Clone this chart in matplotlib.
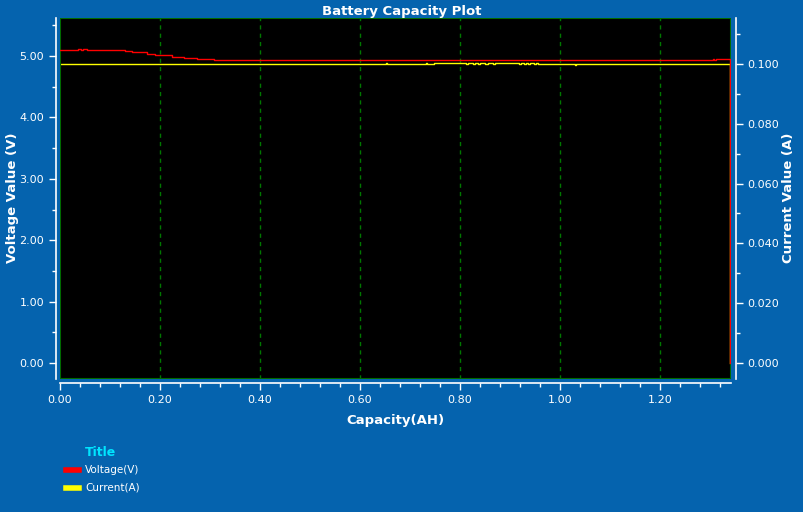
import numpy as np
import matplotlib.pyplot as plt
from matplotlib.patches import Rectangle
from matplotlib.ticker import MultipleLocator

bg = '#0563ae'

# voltage steps (capacity AH, volts)
volt_cap = [0.000, 0.036, 0.042, 0.046, 0.054, 0.130, 0.145, 0.160, 0.175, 0.190,
            0.207, 0.225, 0.248, 0.273, 0.309, 1.307, 1.309, 1.313, 1.341, 1.341]
volt_val = [5.10, 5.11, 5.10, 5.11, 5.10, 5.09, 5.07, 5.06, 5.04, 5.02,
            5.01, 4.99, 4.97, 4.96, 4.94, 4.95, 4.94, 4.96, 4.96, 0.00]

# current steps (capacity AH, amps)
curr_cap = [0.000, 0.652, 0.654, 0.732, 0.734, 0.748, 0.812, 0.816, 0.826, 0.830,
            0.836, 0.840, 0.850, 0.856, 0.866, 0.870, 0.918, 0.922, 0.928, 0.932,
            0.936, 0.940, 0.948, 0.952, 0.956, 1.030, 1.032, 1.341, 1.341]
curr_val = [0.0999, 0.1002, 0.0999, 0.1002, 0.0999, 0.1002, 0.0999, 0.1002, 0.0999, 0.1002,
            0.0999, 0.1002, 0.0999, 0.1002, 0.0999, 0.1002, 0.0999, 0.1002, 0.0999, 0.1002,
            0.0999, 0.1002, 0.0999, 0.1002, 0.0999, 0.0997, 0.0999, 0.0999, 0.0]

fig = plt.figure(figsize=(8.04, 5.12), dpi=100, facecolor=bg)
ax = fig.add_axes([60/804, 133/512, 671/804, 361/512])
ax2 = ax.twinx()

ax.set_xlim(0, 1.342)
ax.set_ylim(-0.26, 5.62)
ax2.set_ylim(-0.0053, 0.1153)

for a in (ax, ax2):
    for s in a.spines.values():
        s.set_visible(False)
ax.spines['left'].set_visible(True)
ax.spines['left'].set_position(('outward', 3))
ax.spines['bottom'].set_visible(True)
ax.spines['bottom'].set_position(('outward', 3))
ax2.spines['right'].set_visible(True)
ax2.spines['right'].set_position(('outward', 3.5))
for s in (ax.spines['left'], ax.spines['bottom'], ax2.spines['right']):
    s.set_color('white')
    s.set_linewidth(1.2)

ax.xaxis.set_major_locator(MultipleLocator(0.2))
ax.xaxis.set_minor_locator(MultipleLocator(0.04))
ax.yaxis.set_major_locator(MultipleLocator(1.0))
ax.yaxis.set_minor_locator(MultipleLocator(0.5))
ax2.yaxis.set_major_locator(MultipleLocator(0.02))
ax2.yaxis.set_minor_locator(MultipleLocator(0.01))
ax.xaxis.set_major_formatter('{x:.2f}')
ax.yaxis.set_major_formatter('{x:.2f}')
ax2.yaxis.set_major_formatter('{x:.3f}')

for a in (ax, ax2):
    a.tick_params(which='major', colors='white', length=5, width=1, labelsize=8)
    a.tick_params(which='minor', colors='white', length=3, width=1)

# black plot area drawn on the back axes, green frame and grid on top
ax.patch.set_visible(False)
ax2.patch.set_visible(True)
ax2.patch.set_facecolor('black')
ax2.set_zorder(ax.get_zorder() - 1)
for xv in np.arange(0.2, 1.3, 0.2):
    ax2.axvline(xv, color='#007800', linestyle=(0, (3, 3)), linewidth=1)
ax.add_patch(Rectangle((0, 0), 1, 1, transform=ax.transAxes, fill=False,
                       edgecolor='#006a00', linewidth=1.5, zorder=1))

ax2.step(curr_cap, curr_val, where='post', color='yellow', linewidth=1.0, zorder=3)
ax.step(volt_cap, volt_val, where='post', color='red', linewidth=1.0, zorder=4)

ax.set_xlabel('Capacity(AH)', color='white', fontsize=9.5, fontweight='bold')
ax.xaxis.set_label_coords(395/804, 1 - 414/512, transform=fig.transFigure)
ax.set_ylabel('Voltage Value (V)', color='white', fontsize=9.5, fontweight='bold')
ax.yaxis.set_label_coords(19/804, 1 - 198/512, transform=fig.transFigure)
ax2.set_ylabel('Current Value (A)', color='white', fontsize=9.5, fontweight='bold',
               rotation=90)
ax2.yaxis.set_label_coords(782/804, 1 - 198/512, transform=fig.transFigure)
fig.text(402/804, 1 - 11/512, 'Battery Capacity Plot', color='white', fontsize=9.5,
         fontweight='bold', ha='center', va='center')

# legend
fig.text(85/804, 1 - 453/512, 'Title', color='#00e5ff', fontsize=9, fontweight='bold', va='center')
fig.add_artist(plt.Line2D([66/804, 79/804], [1 - 470/512] * 2, color='red', linewidth=4))
fig.text(85/804, 1 - 470/512, 'Voltage(V)', color='white', fontsize=7.5, va='center')
fig.add_artist(plt.Line2D([66/804, 79/804], [1 - 488/512] * 2, color='yellow', linewidth=4))
fig.text(85/804, 1 - 488/512, 'Current(A)', color='white', fontsize=7.5, va='center')

fig.savefig('out.png', dpi=100, facecolor=bg)
